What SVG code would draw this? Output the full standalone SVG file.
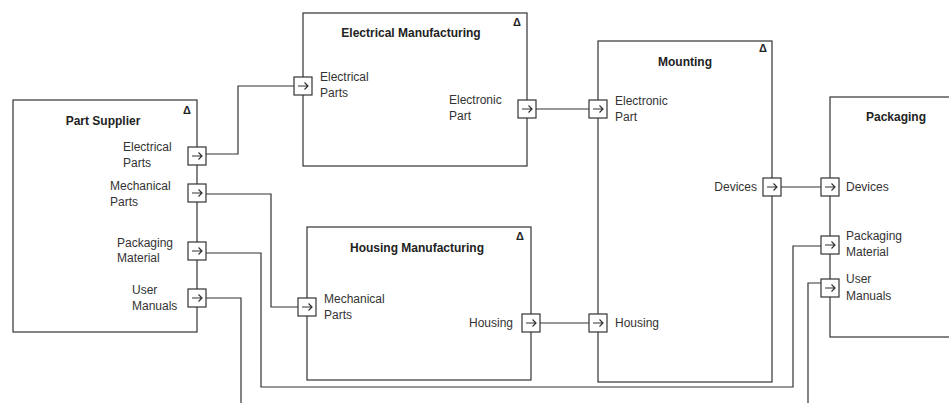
<svg xmlns="http://www.w3.org/2000/svg" xmlns:xlink="http://www.w3.org/1999/xlink" width="949" height="403" viewBox="0 0 949 403">
  <style>
    .block { fill: #ffffff; stroke: #333333; stroke-width: 1.2; }
    .title { font-family: "Liberation Sans", Arial, sans-serif; font-size: 12px; font-weight: bold; fill: #222222; text-anchor: middle; }
    .delta { font-family: "Liberation Sans", Arial, sans-serif; font-size: 11px; font-weight: bold; fill: #222222; text-anchor: middle; }
    .lbl { font-family: "Liberation Sans", Arial, sans-serif; font-size: 12px; fill: #333333; }
    .end { text-anchor: end; }
    .wire { fill: none; stroke: #333333; stroke-width: 1.2; }
  </style>
  <defs>
    <!-- flow port: square with a right-pointing arrow -->
    <g id="port">
      <rect x="-9" y="-9" width="18" height="18" fill="#ffffff" stroke="#333333" stroke-width="1.2"/>
      <path d="M-5 0 H5 M1.5 -3.5 L5 0 L1.5 3.5" fill="none" stroke="#333333" stroke-width="1.2"/>
    </g>
  </defs>

  <rect width="949" height="403" fill="#ffffff"/>

  <!-- connectors -->
  <g id="connectors">
    <path class="wire" d="M206 154 H238 V86 H294"/>
    <path class="wire" d="M206 194 H271 V307 H298"/>
    <path class="wire" d="M206 253 H261 V387 H793 V246 H821"/>
    <path class="wire" d="M206 298 H241 V403"/>
    <path class="wire" d="M536 109 H589"/>
    <path class="wire" d="M540 323 H589"/>
    <path class="wire" d="M781 187 H821"/>
    <path class="wire" d="M808 403 V283 H821"/>
  </g>

  <!-- Part Supplier -->
  <g id="part-supplier">
    <rect class="block" x="13" y="100" width="184" height="232"/>
    <text class="title" x="103" y="125">Part Supplier</text>
    <text class="delta" x="187" y="114">Δ</text>
    <text class="lbl" x="123" y="151">Electrical</text>
    <text class="lbl" x="123" y="167">Parts</text>
    <text class="lbl" x="110" y="190">Mechanical</text>
    <text class="lbl" x="110" y="206">Parts</text>
    <text class="lbl" x="117" y="247">Packaging</text>
    <text class="lbl" x="117" y="262">Material</text>
    <text class="lbl" x="132" y="294">User</text>
    <text class="lbl" x="132" y="310">Manuals</text>
    <use xlink:href="#port" x="197" y="156"/>
    <use xlink:href="#port" x="197" y="193"/>
    <use xlink:href="#port" x="197" y="251"/>
    <use xlink:href="#port" x="197" y="298"/>
  </g>

  <!-- Electrical Manufacturing -->
  <g id="electrical-manufacturing">
    <rect class="block" x="303" y="13" width="224" height="153"/>
    <text class="title" x="411" y="37">Electrical Manufacturing</text>
    <text class="delta" x="517" y="26">Δ</text>
    <text class="lbl" x="320" y="81">Electrical</text>
    <text class="lbl" x="320" y="97">Parts</text>
    <text class="lbl" x="449" y="104">Electronic</text>
    <text class="lbl" x="449" y="120">Part</text>
    <use xlink:href="#port" x="303" y="86"/>
    <use xlink:href="#port" x="527" y="109"/>
  </g>

  <!-- Housing Manufacturing -->
  <g id="housing-manufacturing">
    <rect class="block" x="307" y="227" width="224" height="153"/>
    <text class="title" x="417" y="252">Housing Manufacturing</text>
    <text class="delta" x="520" y="240">Δ</text>
    <text class="lbl" x="324" y="303">Mechanical</text>
    <text class="lbl" x="324" y="319">Parts</text>
    <text class="lbl end" x="513" y="327">Housing</text>
    <use xlink:href="#port" x="307" y="307"/>
    <use xlink:href="#port" x="531" y="323"/>
  </g>

  <!-- Mounting -->
  <g id="mounting">
    <rect class="block" x="598" y="41" width="174" height="341"/>
    <text class="title" x="685" y="66">Mounting</text>
    <text class="delta" x="763" y="52">Δ</text>
    <text class="lbl" x="615" y="105">Electronic</text>
    <text class="lbl" x="615" y="121">Part</text>
    <text class="lbl end" x="757" y="191">Devices</text>
    <text class="lbl" x="615" y="327">Housing</text>
    <use xlink:href="#port" x="598" y="109"/>
    <use xlink:href="#port" x="598" y="323"/>
    <use xlink:href="#port" x="772" y="187"/>
  </g>

  <!-- Packaging -->
  <g id="packaging">
    <rect class="block" x="830" y="97" width="130" height="240"/>
    <text class="title" x="896" y="121">Packaging</text>
    <text class="lbl" x="846" y="191">Devices</text>
    <text class="lbl" x="846" y="240">Packaging</text>
    <text class="lbl" x="846" y="256">Material</text>
    <text class="lbl" x="846" y="283">User</text>
    <text class="lbl" x="846" y="300">Manuals</text>
    <use xlink:href="#port" x="830" y="187"/>
    <use xlink:href="#port" x="830" y="245"/>
    <use xlink:href="#port" x="830" y="288"/>
  </g>
</svg>
